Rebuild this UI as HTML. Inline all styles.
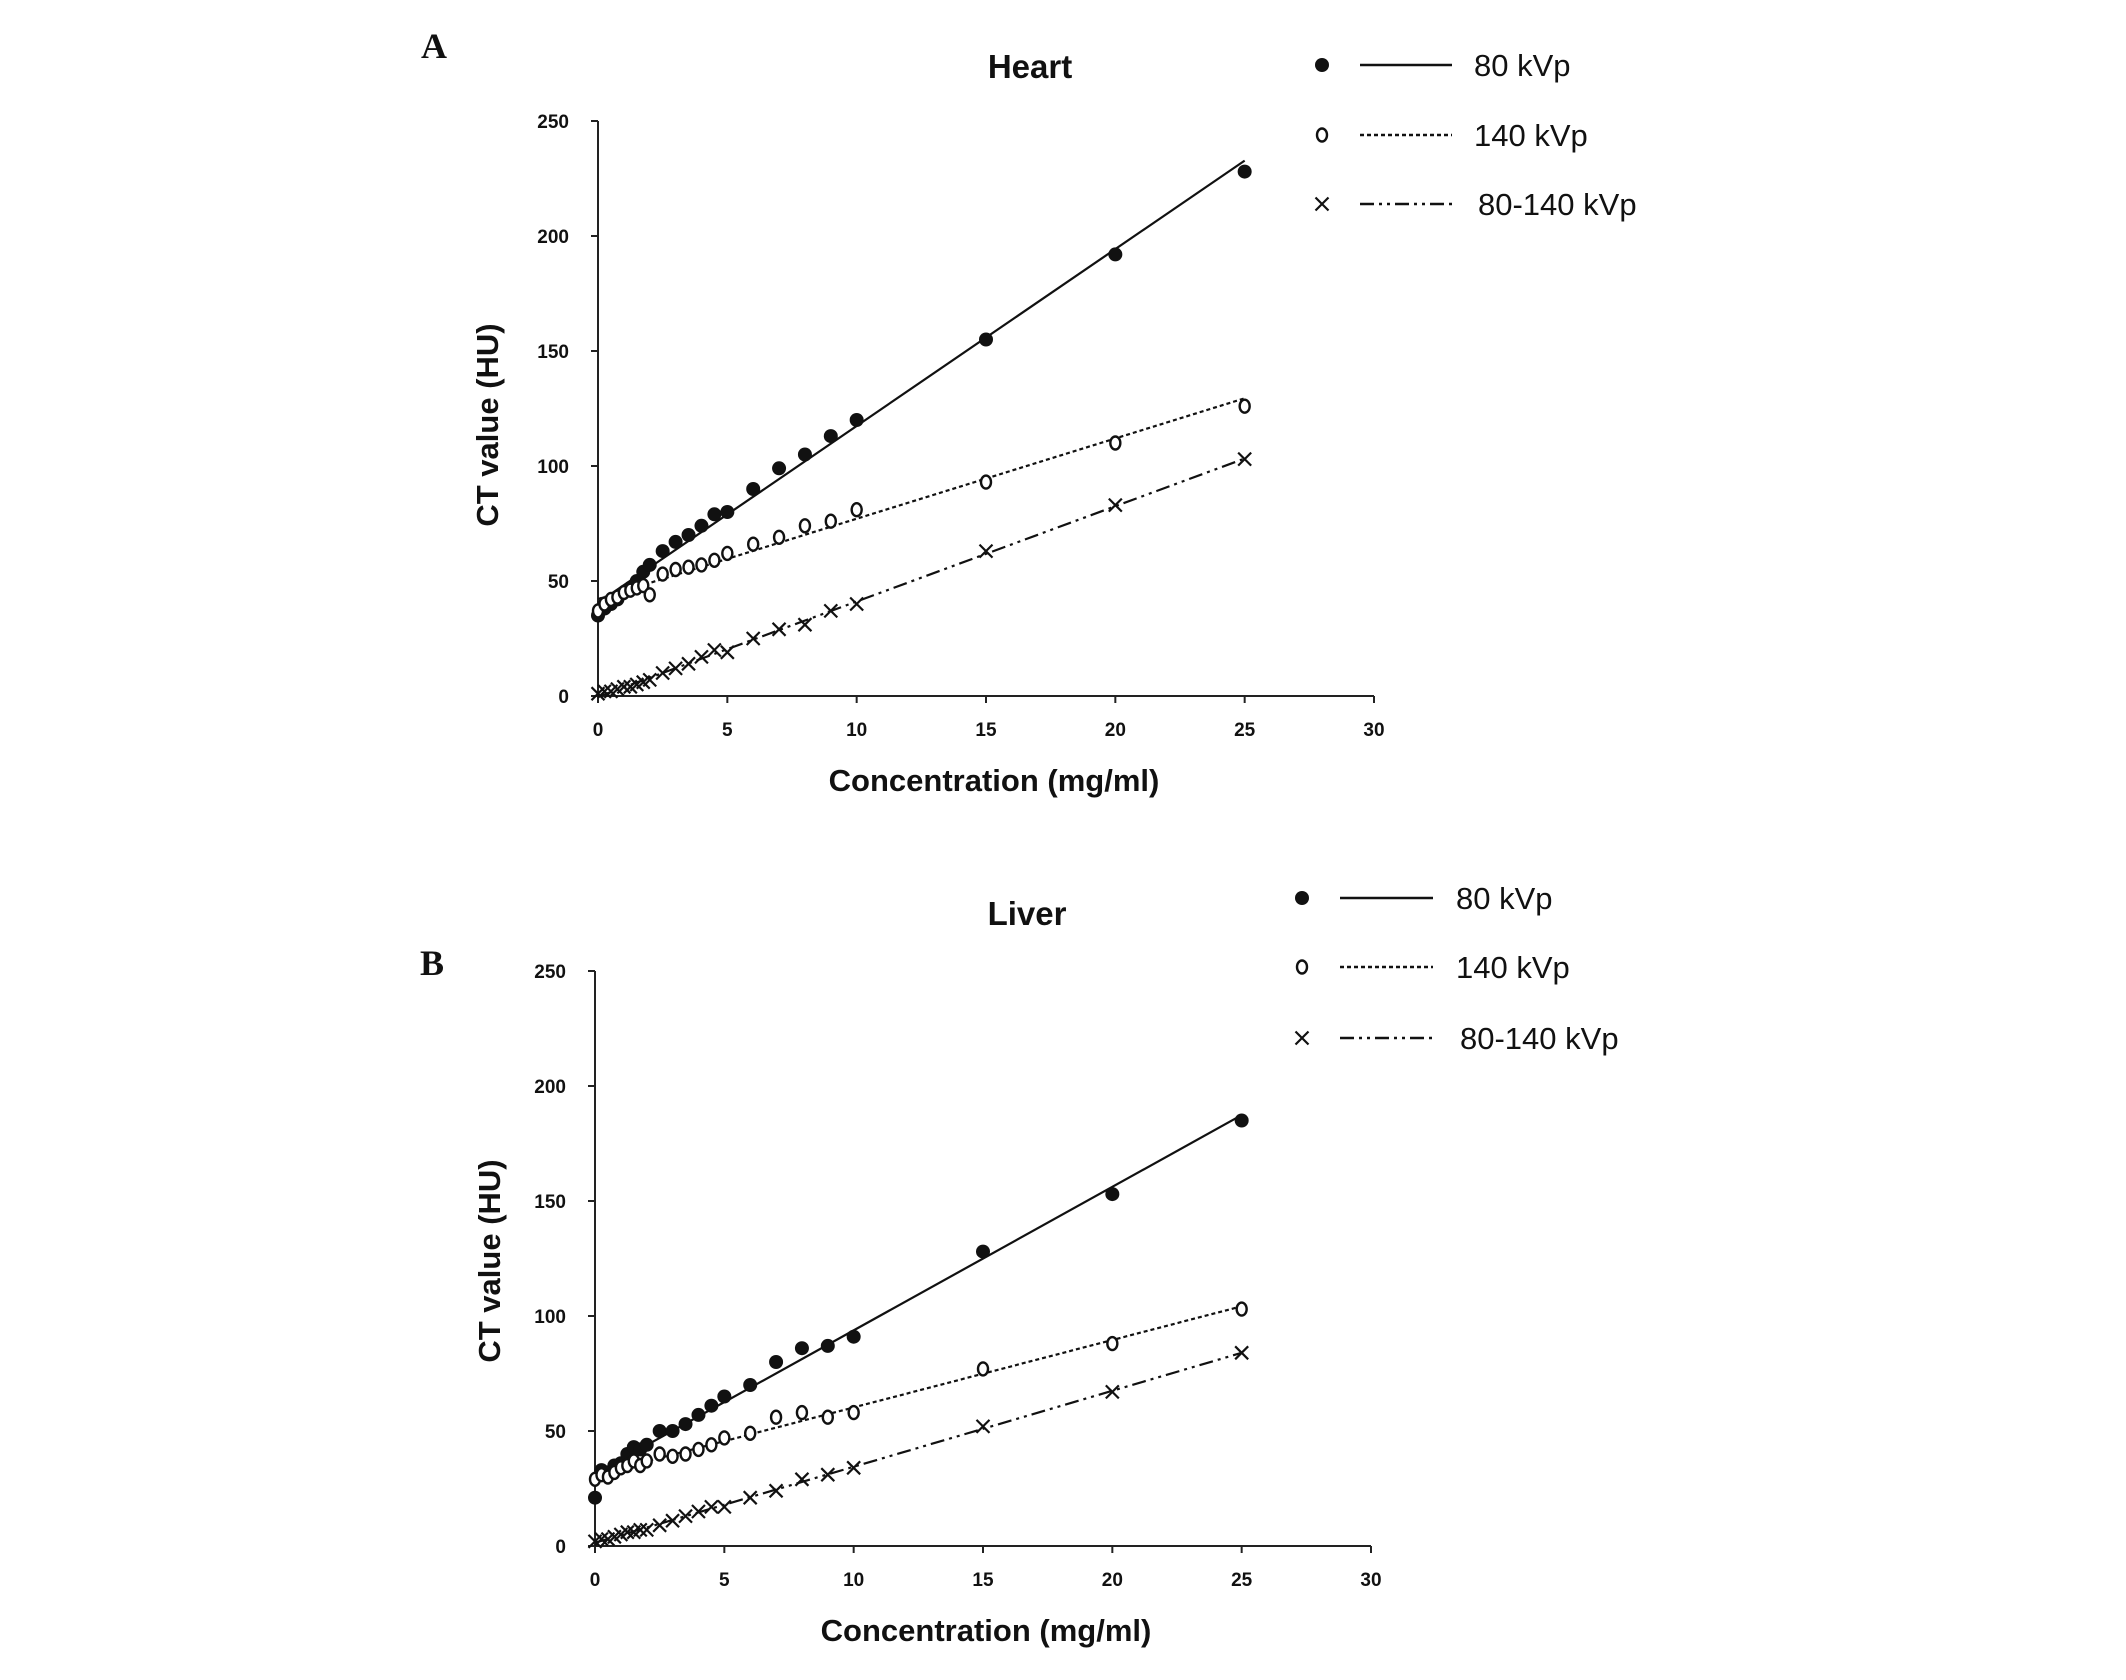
<!DOCTYPE html>
<html><head><meta charset="utf-8"><style>
body{margin:0;background:#fff}
svg{display:block}
text{font-family:"Liberation Sans",sans-serif;fill:#111}
</style></head><body>
<svg id="fig" width="2126" height="1680" viewBox="0 0 2126 1680"></svg>
<script>
const xVals=[0,0.25,0.5,0.75,1,1.25,1.5,1.75,2,2.5,3,3.5,4,4.5,5,6,7,8,9,10,15,20,25];
const heart80=[35,38,40,42,45,47,50,54,57,63,67,70,74,79,80,90,99,105,113,120,155,192,228];
const heart140=[37,40,42,43,45,46,47,48,44,53,55,56,57,59,62,66,69,74,76,81,93,110,126];
const heartDiff=[1,2,2,3,4,4,5,6,7,10,12,14,17,20,19,25,29,31,37,40,63,83,103];
const liver80=[21,33,32,35,36,40,43,42,44,50,50,53,57,61,65,70,80,86,87,91,128,153,185];
const liver140=[29,31,30,32,34,35,37,35,37,40,39,40,42,44,47,49,56,58,56,58,77,88,103];
const liverDiff=[2,3,3,4,5,6,6,7,7,9,11,13,15,17,17,21,24,29,31,34,52,67,84];
const xTicks=[0,5,10,15,20,25,30];
const yTicks=[0,50,100,150,200,250];
const legendLabels=["80 kVp","140 kVp","80-140 kVp"];

const NS="http://www.w3.org/2000/svg";
const svg=document.getElementById('fig');
function mk(tag,attrs,parent,txt){const e=document.createElementNS(NS,tag);for(const k in attrs)e.setAttribute(k,attrs[k]);if(txt!==undefined)e.textContent=txt;(parent||svg).appendChild(e);return e;}
function fit(xs,ys){const n=xs.length;let sx=0,sy=0,sxx=0,sxy=0;for(let i=0;i<n;i++){sx+=xs[i];sy+=ys[i];sxx+=xs[i]*xs[i];sxy+=xs[i]*ys[i];}const b=(n*sxy-sx*sy)/(n*sxx-sx*sx);return [(sy-b*sx)/n,b];}
const dashes=["none","4,3","14,5,3,5,3,5"];

function marker(g,kind,cx,cy,name){
  let e;
  if(kind===0){e=mk('circle',{cx:cx,cy:cy,r:7,fill:'#111'},g);}
  else if(kind===1){e=mk('ellipse',{cx:cx,cy:cy,rx:5,ry:6.5,fill:'#fff',stroke:'#111','stroke-width':2.4},g);}
  else{e=mk('path',{d:`M${cx-6.5},${cy-6.5}L${cx+6.5},${cy+6.5}M${cx+6.5},${cy-6.5}L${cx-6.5},${cy+6.5}`,stroke:'#111','stroke-width':2.2},g);}
  
  
}

function chart(cfg){
  const g=mk('g',{});
  
  
  const X=v=>cfg.x0+(cfg.x1-cfg.x0)*v/30;
  const Y=v=>cfg.y0-(cfg.y0-cfg.y1)*v/250;
  let a=mk('line',{x1:X(0),y1:Y(0),x2:X(30),y2:Y(0),stroke:'#222','stroke-width':2},g);
  
  a=mk('line',{x1:X(0),y1:Y(0),x2:X(0),y2:Y(250),stroke:'#222','stroke-width':2},g);
  
  xTicks.forEach(t=>{
    mk('line',{x1:X(t),y1:Y(0),x2:X(t),y2:Y(0)+7,stroke:'#222','stroke-width':2},g);
    const l=mk('text',{x:X(t),y:Y(0)+40,'text-anchor':'middle','font-size':19,'font-weight':'bold'},g,t);
    
  });
  yTicks.forEach(t=>{
    mk('line',{x1:X(0)-7,y1:Y(t),x2:X(0),y2:Y(t),stroke:'#222','stroke-width':2},g);
    const l=mk('text',{x:X(0)-29,y:Y(t)+7,'text-anchor':'end','font-size':19,'font-weight':'bold'},g,t);
    
  });
  let t=mk('text',{x:cfg.titleX,y:cfg.titleY,'text-anchor':'middle','font-size':33,'font-weight':'bold'},g,cfg.title);
  
  t=mk('text',{x:cfg.xtX,y:cfg.xtY,'text-anchor':'middle','font-size':31,'font-weight':'bold'},g,'Concentration (mg/ml)');
  
  t=mk('text',{x:0,y:0,'text-anchor':'middle','font-size':31,'font-weight':'bold',transform:`translate(${cfg.ytX},${cfg.ytY}) rotate(-90)`},g,'CT value (HU)');
  
  t=mk('text',{x:cfg.letterX,y:cfg.letterY,'font-size':36,'font-weight':'bold',style:'font-family:"Liberation Serif",serif'},g,cfg.letter);
  
  cfg.series.forEach((ys,k)=>{
    const [b0,b1]=fit(xVals,ys);
    const ln=mk('line',{x1:X(0),y1:Y(b0),x2:X(25),y2:Y(b0+b1*25),stroke:'#111','stroke-width':2.2,'stroke-dasharray':dashes[k]},g);
    
    ys.forEach((v,i)=>marker(g,k,X(xVals[i]),Y(v),'data-point'));
  });
  legendLabels.forEach((lab,k)=>{
    const ly=cfg.legY[k];
    marker(g,k,cfg.legMX,ly,'legend-marker');
    const ll=mk('line',{x1:cfg.legL0,y1:ly,x2:cfg.legL1,y2:ly,stroke:'#111','stroke-width':2.5,'stroke-dasharray':dashes[k]},g);
    
    const lt=mk('text',{x:cfg.legT+(k===2?4:0),y:ly+11,'font-size':31},g,lab);
    
  });
}
chart({name:'heart-chart',x0:598,x1:1374,y0:696,y1:121,title:'Heart',titleX:1030,titleY:78,xtX:994,xtY:791,ytX:498,ytY:425,letter:'A',letterX:421,letterY:58,
  series:[heart80,heart140,heartDiff],legMX:1322,legY:[65,135,204],legL0:1360,legL1:1452,legT:1474});
chart({name:'liver-chart',x0:595,x1:1371,y0:1546,y1:971,title:'Liver',titleX:1027,titleY:925,xtX:986,xtY:1641,ytX:500,ytY:1261,letter:'B',letterX:420,letterY:975,
  series:[liver80,liver140,liverDiff],legMX:1302,legY:[898,967,1038],legL0:1340,legL1:1433,legT:1456});
</script>
</body></html>
